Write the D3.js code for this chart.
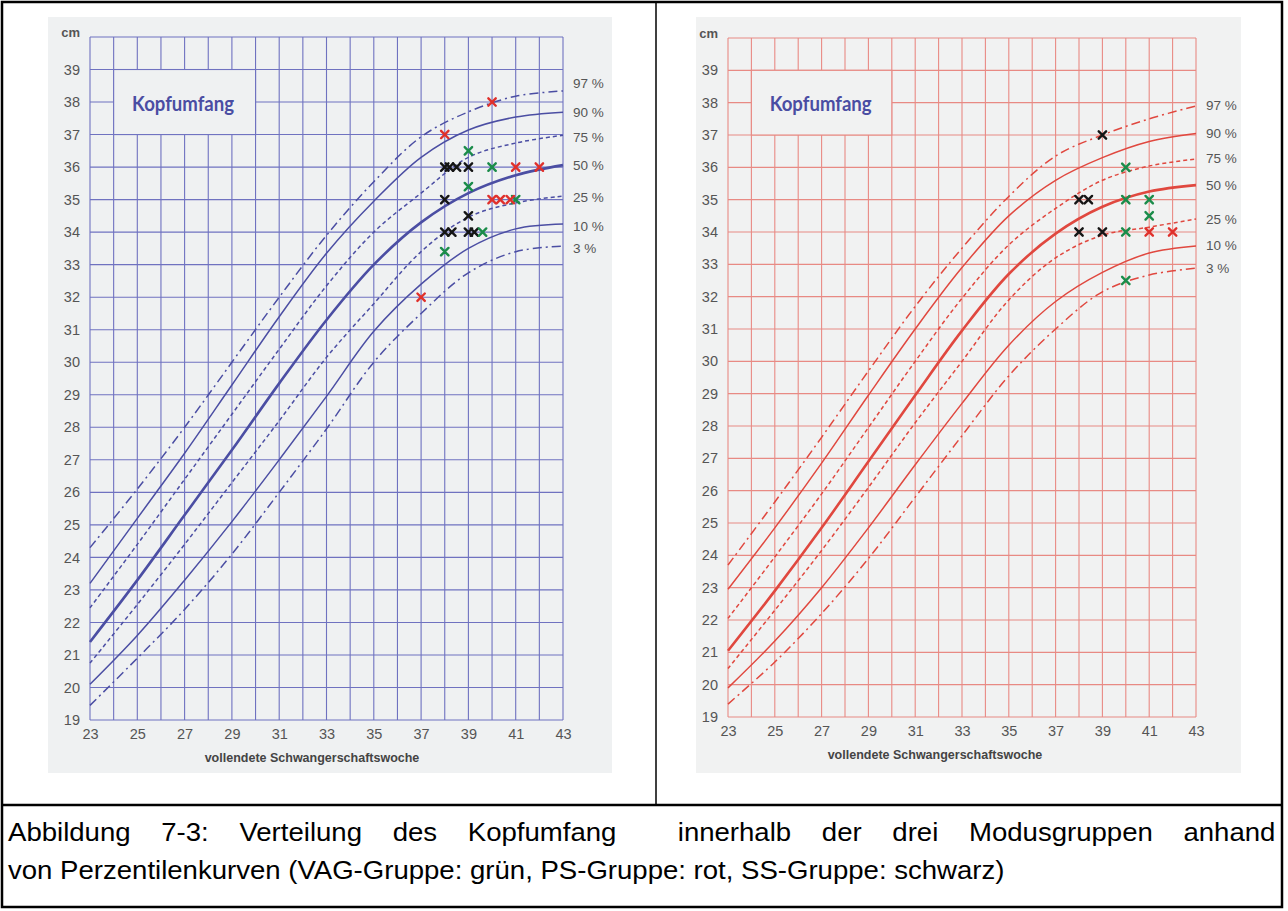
<!DOCTYPE html>
<html>
<head>
<meta charset="utf-8">
<script src="https://cdn.jsdelivr.net/npm/d3@7"></script>
<style>
  body { margin: 0; background: #fff; }
  svg { display: block; }
</style>
</head>
<body>
<script>
var weeks = [23, 25, 27, 29, 31, 33, 35, 37, 39, 41, 43];

// left chart (blue) percentile values, cm
var left97 = [24.3, 26.1, 28.0, 30.0, 32.0, 33.9, 35.55, 36.93, 37.7, 38.18, 38.34];
var left90 = [23.2, 25.2, 27.2, 29.3, 31.4, 33.35, 34.95, 36.3, 37.14, 37.54, 37.69];
var left75 = [22.45, 24.4, 26.4, 28.4, 30.4, 32.35, 34.0, 35.2, 36.3, 36.74, 36.98];
var left50 = [21.4, 23.3, 25.3, 27.3, 29.35, 31.3, 33.0, 34.3, 35.2, 35.75, 36.06];
var left25 = [20.75, 22.55, 24.4, 26.3, 28.2, 30.15, 31.8, 33.4, 34.46, 34.9, 35.11];
var left10 = [20.1, 21.6, 23.3, 25.1, 27.0, 28.95, 30.95, 32.4, 33.5, 34.1, 34.25];
var left3 = [19.45, 20.9, 22.4, 24.1, 26.0, 27.95, 30.0, 31.5, 32.75, 33.4, 33.57];

// right chart (red) percentile values, cm
var right97 = [23.7, 25.65, 27.65, 29.7, 31.7, 33.5, 35.1, 36.35, 37.0, 37.5, 37.9];
var right90 = [22.95, 24.85, 26.85, 28.95, 31.0, 32.9, 34.5, 35.6, 36.3, 36.8, 37.05];
var right75 = [22.05, 23.95, 25.9, 27.95, 30.0, 31.95, 33.6, 34.73, 35.6, 36.04, 36.26];
var right50 = [21.05, 22.9, 24.85, 26.9, 28.95, 30.95, 32.7, 33.95, 34.78, 35.25, 35.45];
var right25 = [20.5, 22.3, 24.15, 26.1, 28.1, 30.0, 31.9, 33.2, 33.9, 34.15, 34.4];
var right10 = [19.9, 21.35, 23.0, 24.85, 26.8, 28.7, 30.5, 31.85, 32.75, 33.35, 33.57];
var right3 = [19.4, 20.7, 22.2, 23.9, 25.8, 27.7, 29.55, 31.0, 32.15, 32.67, 32.88];

var percentileLabels = ['97 %', '90 %', '75 %', '50 %', '25 %', '10 %', '3 %'];
var xTicks = [23, 25, 27, 29, 31, 33, 35, 37, 39, 41, 43];
var yTicks = d3.range(19, 40);

// measured children: [week, cm]
var leftGreen = [[39, 36.5], [40, 36], [39, 35.4], [41, 35], [39.6, 34], [38, 33.4]];
var leftRed = [[40, 38], [38, 37], [41, 36], [42, 36], [40, 35], [40.35, 35], [40.77, 35], [37, 32]];
var leftBlack = [[38, 36], [38.2, 36], [38.5, 36], [39, 36], [38, 35], [39, 34.5],
	[38, 34], [38.3, 34], [39, 34], [39.25, 34]];

var rightGreen = [[40, 36], [40, 35], [41, 35], [41, 34.5], [40, 34], [40, 32.5]];
var rightRed = [[41, 34], [42, 34]];
var rightBlack = [[39, 37], [38, 35], [38.4, 35], [38, 34], [39, 34]];

var captionLines = [
	'Abbildung 7-3: Verteilung des Kopfumfang  innerhalb der drei Modusgruppen anhand',
	'von Perzentilenkurven (VAG-Gruppe: grün, PS-Gruppe: rot, SS-Gruppe: schwarz)'
];

var svg = d3.select('body').append('svg')
	.attr('width', 1288)
	.attr('height', 911);

var styles = ['dashdot', 'solid', 'dashed', 'bold', 'dashed', 'solid', 'dashdot'];
var dashes = {dashdot: '9,4,2,4', dashed: '4,3', solid: null, bold: null};

function drawChart(o) {
	var g = svg.append('g');

	g.append('rect')
		.attr('x', o.bg[0]).attr('y', o.bg[1])
		.attr('width', o.bg[2]).attr('height', o.bg[3])
		.attr('fill', o.bgColor);

	var x = d3.scaleLinear().domain([23, 43]).range(o.xr);
	var y = d3.scaleLinear().domain([19, 40]).range(o.yr);

	// grid: every week, every cm
	g.selectAll('.vg').data(d3.range(23, 44)).enter().append('line')
		.attr('x1', function(d) { return x(d); }).attr('x2', function(d) { return x(d); })
		.attr('y1', y(40)).attr('y2', y(19))
		.attr('stroke', o.grid).attr('stroke-width', 1.1);
	g.selectAll('.hg').data(d3.range(19, 41)).enter().append('line')
		.attr('y1', function(d) { return y(d); }).attr('y2', function(d) { return y(d); })
		.attr('x1', x(23)).attr('x2', x(43))
		.attr('stroke', o.grid).attr('stroke-width', 1.1);

	// title box covers the grid
	g.append('rect')
		.attr('x', x(24)).attr('y', y(39))
		.attr('width', x(30) - x(24)).attr('height', y(37) - y(39))
		.attr('fill', o.bgColor).attr('stroke', o.grid).attr('stroke-width', 1.1);

	g.append('text')
		.attr('x', x(24) + (x(30) - x(24)) * 0.13)
		.attr('y', y(38))
		.attr('dominant-baseline', 'central')
		.attr('font-family', 'Lato, "Open Sans", sans-serif')
		.attr('font-weight', 'bold')
		.attr('font-size', 21)
		.attr('textLength', 102)
		.attr('lengthAdjust', 'spacingAndGlyphs')
		.attr('fill', '#4a4da3')
		.text('Kopfumfang');

	// axes (labels only)
	var yAxis = g.append('g')
		.attr('transform', 'translate(' + x(23) + ',0)')
		.call(d3.axisLeft(y).tickValues(yTicks).tickSize(0).tickPadding(10).tickFormat(d3.format('d')));
	var xAxis = g.append('g')
		.attr('transform', 'translate(0,' + y(19) + ')')
		.call(d3.axisBottom(x).tickValues(xTicks).tickSize(0).tickPadding(9).tickFormat(d3.format('d')));
	[yAxis, xAxis].forEach(function(a) {
		a.select('.domain').remove();
		a.selectAll('text')
			.attr('font-family', '"Liberation Sans", Arial, sans-serif')
			.attr('font-size', 14.5)
			.attr('fill', '#555');
	});

	g.append('text')
		.attr('x', x(23) - 10).attr('y', y(40))
		.attr('text-anchor', 'end')
		.attr('font-family', '"Liberation Sans", Arial, sans-serif')
		.attr('font-weight', 'bold').attr('font-size', 13)
		.attr('fill', '#555')
		.text('cm');

	g.append('text')
		.attr('x', o.xTitleX).attr('y', y(19) + 42)
		.attr('text-anchor', 'middle')
		.attr('font-family', '"Liberation Sans", Arial, sans-serif')
		.attr('font-weight', 'bold').attr('font-size', 12.5)
		.attr('fill', '#444')
		.text('vollendete Schwangerschaftswoche');

	// percentile curves
	var line = d3.line()
		.x(function(d) { return x(d[0]); })
		.y(function(d) { return y(d[1]); })
		.curve(d3.curveCatmullRom.alpha(0.5));

	o.curves.forEach(function(vals, i) {
		var pts = weeks.map(function(w, j) { return [w, vals[j]]; });
		g.append('path')
			.attr('d', line(pts))
			.attr('fill', 'none')
			.attr('stroke', o.color)
			.attr('stroke-width', styles[i] === 'bold' ? 2.6 : 1.5)
			.attr('stroke-dasharray', dashes[styles[i]]);

		g.append('text')
			.attr('x', x(43) + 10)
			.attr('y', y(vals[vals.length - 1]) + (o.labelNudge[i] || 0))
			.attr('dominant-baseline', 'central')
			.attr('font-family', '"Liberation Sans", Arial, sans-serif')
			.attr('font-size', 13.5)
			.attr('fill', '#555')
			.text(percentileLabels[i]);
	});

	// markers
	var groups = [
		{data: o.black, color: '#151515'},
		{data: o.green, color: '#1b8c4a'},
		{data: o.red, color: '#e0302b'}
	];
	groups.forEach(function(grp) {
		g.selectAll(null).data(grp.data).enter().append('path')
			.attr('d', function(d) {
				var cx = x(d[0]), cy = y(d[1]), s = 3.7;
				return 'M' + (cx - s) + ',' + (cy - s) + 'L' + (cx + s) + ',' + (cy + s) +
					'M' + (cx - s) + ',' + (cy + s) + 'L' + (cx + s) + ',' + (cy - s);
			})
			.attr('stroke', grp.color)
			.attr('stroke-width', 2.4)
			.attr('stroke-linecap', 'round');
	});
}

drawChart({
	bg: [48, 17, 564, 756], bgColor: '#eff1f2',
	xr: [90, 563], yr: [720, 37],
	grid: '#6f72c0', color: '#4b4ea3',
	xTitleX: 312,
	curves: [left97, left90, left75, left50, left25, left10, left3],
	labelNudge: [-7, 0, 2, 0, 1, 2, 2],
	green: leftGreen, red: leftRed, black: leftBlack
});

drawChart({
	bg: [696, 17, 545, 756], bgColor: '#f1f2f2',
	xr: [728, 1196], yr: [717, 38],
	grid: '#e88a84', color: '#e0483f',
	xTitleX: 935,
	curves: [right97, right90, right75, right50, right25, right10, right3],
	labelNudge: [0, 0, 0, 0, 0, 0, 0],
	green: rightGreen, red: rightRed, black: rightBlack
});

// table borders
var border = svg.append('g').attr('stroke', '#000').attr('stroke-width', 2.5).attr('fill', 'none');
border.append('rect').attr('x', 2).attr('y', 2).attr('width', 1280).attr('height', 905);
border.append('line').attr('x1', 2).attr('x2', 1282).attr('y1', 805).attr('y2', 805);
border.append('line').attr('x1', 656).attr('x2', 656).attr('y1', 2).attr('y2', 805).attr('stroke-width', 1.5);

// caption: glyphs squeezed horizontally to the second line's width, first line justified
var cap = svg.append('g');
var capText = cap.selectAll('text').data(captionLines).enter().append('text')
	.attr('y', function(d, i) { return 832 + i * 38; })
	.attr('dominant-baseline', 'central')
	.attr('font-family', '"Liberation Sans", Arial, sans-serif')
	.attr('font-size', 26)
	.attr('fill', '#000')
	.style('white-space', 'pre')
	.text(function(d) { return d; });

var natural = capText.nodes().map(function(n) { return n.getComputedTextLength(); });
var sx = 997 / natural[1];
capText.attr('transform', 'translate(8,0) scale(' + sx + ',1)').attr('x', 0);
var spaces = captionLines[0].split(' ').length - 1;
d3.select(capText.nodes()[0])
	.attr('word-spacing', (1268 / sx - natural[0]) / spaces);
</script>
</body>
</html>
